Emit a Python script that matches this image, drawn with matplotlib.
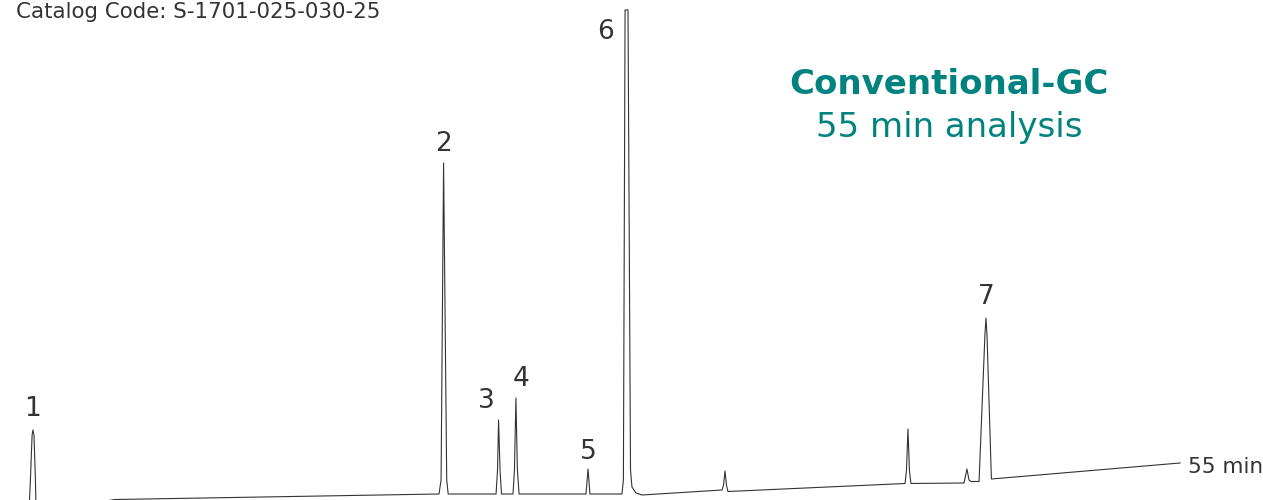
import matplotlib

matplotlib.use('Agg')
import matplotlib.pyplot as plt
import numpy as np

# chromatogram trace (time in min, detector signal in arbitrary units)
time_min = [-0.05, 0.02, 0.10, 0.14, 0.19, 0.26, 0.29, 4.07,
            19.56, 19.66, 19.78, 19.93, 20.00,
            22.29, 22.36, 22.41, 22.48, 22.55,
            23.10, 23.17, 23.24, 23.31, 23.39,
            26.59, 26.69, 26.78,
            28.31, 28.38, 28.46, 28.60, 28.72, 28.79, 28.98, 29.27,
            33.10, 33.17, 33.24, 33.31, 33.38,
            41.85, 41.92, 41.99, 42.06, 42.13,
            44.67, 44.81, 44.91, 45.00, 45.39, 45.67, 45.72, 45.77, 45.98,
            55.00]
signal = [-12, 20, 65, 70, 65, 20, -12, 0.5,
          6, 20, 337, 20, 6,
          6, 30, 80, 30, 6,
          6, 30, 102, 30, 6,
          6, 31, 6,
          6, 20, 490, 490, 30, 13, 7, 5,
          10, 15, 29, 15, 8.5,
          16.5, 30, 71, 30, 16.5,
          17, 31, 20, 18.5, 18.5, 165, 182, 165, 21,
          37]

# peak labels: number, retention time, apex signal, label offset (pt)
peak_names = ['1', '2', '3', '4', '5', '6', '7']
peak_times = [0.14, 19.78, 22.41, 23.24, 26.69, 28.46, 45.72]
peak_tops = [70, 337, 80, 102, 31, 490, 182]
label_dx = [0, 0, -9, 4, 0, -14, 0]
label_dy = [6, 4, 4, 4, 3, -25, 6]

fig = plt.figure(figsize=(12.63, 5.0), dpi=100)
ax = fig.add_axes([0, 0, 1, 1])
ax.plot(time_min, signal, color='#333333', linewidth=0.8, solid_joinstyle='round')
ax.set_xlim(-1.435, 58.97)
ax.set_ylim(0, 500)
ax.axis('off')

for name, t, s, dx, dy in zip(peak_names, peak_times, peak_tops, label_dx, label_dy):
    ax.annotate(name, (t, s), xytext=(dx, dy), textcoords='offset points',
                ha='center', va='bottom', fontsize=19, color='#333333')

ax.annotate('55 min', (time_min[-1], signal[-1]), xytext=(6, -3), textcoords='offset points',
            ha='left', va='center', fontsize=15.5, color='#333333')

fig.text(16 / 1263, 1 - 12 / 500, 'Catalog Code: S-1701-025-030-25', ha='left', va='center',
         fontsize=15.4, color='#333333')
fig.text(949 / 1263, 1 - 84 / 500, 'Conventional-GC', ha='center', va='center',
         fontsize=24.5, fontweight='bold', color='#00827f')
fig.text(949 / 1263, 1 - 127 / 500, '55 min analysis', ha='center', va='center',
         fontsize=24.5, color='#00827f')

plt.savefig('out.png', dpi=100)
